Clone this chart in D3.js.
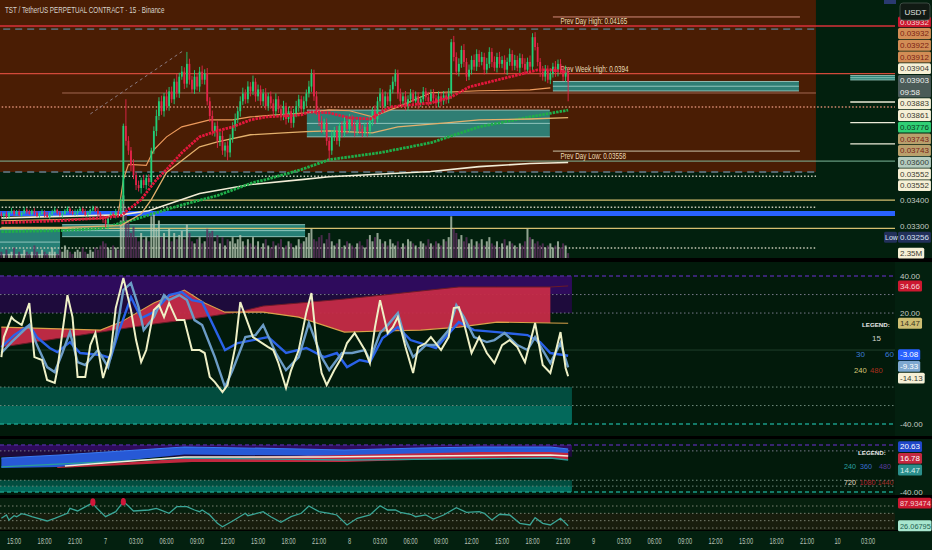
<!DOCTYPE html>
<html><head><meta charset="utf-8">
<script src="https://cdn.jsdelivr.net/npm/d3@7"></script>
<style>
html,body{margin:0;padding:0;background:#03200f;overflow:hidden;}
svg{display:block;font-family:"Liberation Sans",Arial,sans-serif;}
</style></head><body>
<svg id="c" width="932" height="550"></svg>
<script>
// ---------------- DATA (prices in 1e-5 USDT, 15-minute bars) ----------------
const firstOpen = 3346;
const closes = [
3338,3346,3334,3350,3358,3346,3354,3342,3350,3362,
3354,3346,3358,3350,3338,3346,3354,3342,3334,3346,
3354,3362,3350,3342,3346,3358,3366,3354,3346,3350,
3358,3366,3354,3342,3350,3362,3369,3358,3346,3331,
3323,3308,3331,3346,3338,3354,3346,3400,3707,3643,
3602,3541,3500,3460,3448,3480,3460,3488,3472,3602,
3685,3750,3815,3771,3837,3793,3859,3824,3903,3850,
3926,3949,3894,3985,3912,3868,3926,3881,3949,3912,
3940,3815,3750,3685,3707,3643,3664,3602,3623,3594,
3651,3707,3737,3771,3815,3850,3824,3881,3859,3903,
3837,3868,3815,3850,3793,3837,3806,3771,3824,3780,
3750,3793,3737,3771,3720,3763,3793,3824,3780,3815,
3850,3881,3940,3837,3771,3728,3694,3720,3643,3602,
3664,3685,3643,3707,3677,3728,3694,3737,3707,3685,
3720,3694,3677,3703,3685,3728,3771,3737,3815,3850,
3793,3837,3815,3868,3903,3940,3850,3815,3837,3793,
3824,3850,3815,3837,3806,3824,3859,3833,3815,3850,
3828,3806,3837,3815,3841,3824,3850,4087,4017,3949,
3985,4050,3994,3926,3958,4003,3972,4031,3994,4017,
3958,3985,4041,3994,3967,4017,3985,4003,3958,3994,
4031,3976,4003,3967,4012,3985,3958,3994,3972,4111,
4064,3994,3949,3926,3958,3912,3940,3972,3949,3985,
3958,3926,3949,3903];
const hiExt = [
8,5,10,6,12,4,7,9,5,11,6,8,4,10,7,5,
9,6,12,5,8,10,4,7,11,6,9,5,8,13,6,7,
5,10,8,4,9,7,12,6,8,10,5,9,7,11,6,10,
10,117,20,15,25,12,18,10,22,14,16,12,20,28,18,25,
15,30,20,22,14,35,18,26,20,56,24,18,30,16,22,28,
20,26,18,24,15,20,16,22,14,18,20,16,24,18,22,26,
18,24,20,28,16,22,18,20,24,16,22,18,26,14,20,24,
16,20,22,18,24,20,16,22,18,26,20,18,24,16,22,18,
20,16,24,18,22,14,20,18,16,22,18,20,14,24,16,18,
20,22,18,26,20,24,18,22,16,20,24,20,18,22,16,24,
18,20,16,22,18,14,20,16,24,18,20,16,22,18,20,16,
24,15,30,22,26,20,28,18,24,20,26,22,18,24,20,28,
22,18,26,20,24,18,22,20,26,18,24,20,22,18,26,20,
30,19,24,20,18,26,22,20,24,18,26,20,22,18,28,20];
const loExt = [
6,9,5,8,4,10,7,5,9,6,8,4,7,10,5,8,
6,10,4,7,9,5,8,6,11,4,7,9,5,8,10,6,
7,4,9,6,8,5,10,7,12,15,23,9,6,10,8,12,
15,20,18,24,16,20,14,22,12,18,16,20,14,22,18,16,
24,18,20,16,22,18,20,14,24,18,22,16,20,18,24,20,
22,18,26,20,24,30,22,18,26,33,20,16,22,18,24,16,
20,18,22,16,24,20,18,22,16,20,24,18,22,16,20,18,
24,16,22,20,18,24,16,20,22,18,24,20,16,22,18,24,
20,41,18,22,16,24,20,18,22,16,20,24,18,22,20,16,
24,18,20,22,16,24,18,20,16,22,18,20,24,16,22,18,
20,16,22,18,24,16,20,18,22,16,24,20,18,22,16,20,
18,24,20,16,22,18,24,20,16,22,18,20,24,16,22,18,
20,24,16,22,18,20,16,24,18,22,20,16,24,18,22,20,
18,22,16,20,24,18,22,16,20,18,24,22,16,20,24,88];
// volume in millions
const volumes = [
3,2,4,2,3,5,2,3,2,4,3,2,3,6,3,2,4,3,2,3,5,3,2,4,3,6,4,3,2,3,4,3,5,3,2,4,3,5,4,6,8,7,5,4,6,5,4,
18,30,24,18,12,15,10,8,12,9,10,8,20,22,14,18,10,12,9,14,8,12,9,11,13,9,16,12,8,7,9,10,7,8,14,12,13,8,11,7,10,6,9,8,10,7,9,11,8,6,9,7,10,
6,8,5,7,9,6,5,8,6,7,9,5,6,8,7,5,6,9,7,8,10,12,14,9,8,10,11,7,9,12,8,6,7,9,5,6,8,7,6,5,7,8,6,5,9,11,8,10,12,9,7,8,6,9,7,6,8,5,7,6,9,8,7,6,5,8,7,6,9,7,6,8,7,6,9,8,10,
20,14,12,9,11,8,10,7,9,6,8,7,9,6,8,10,7,6,8,5,7,9,6,8,7,6,5,7,6,8,14,10,9,7,8,6,7,5,6,7,5,6,8,5,7,6,2.35];

// moving averages [barIndex, price]
const maFastRed = [[0,3311],[23,3319],[39,3330],[47,3338],[49,3354],[55,3402],[61,3482],[65,3523],[71,3593],[78,3660],[85,3686],[91,3703],[98,3733],[104,3746],[118,3755],[121,3768],[129,3764],[137,3742],[145,3737],[153,3790],[169,3808],[177,3834],[184,3879],[200,3925],[211,3957],[216,3957],[222,3948]];
const maOrange = [[0,3319],[39,3327],[46,3346],[48,3482],[50,3544],[57,3540],[60,3605],[65,3660],[71,3703],[82,3733],[91,3733],[98,3746],[108,3755],[120,3764],[129,3777],[137,3773],[146,3746],[156,3790],[169,3853],[188,3862],[208,3866],[216,3875]];
const maYellow = [[0,3293],[23,3293],[47,3300],[55,3346],[59,3402],[65,3511],[78,3618],[85,3639],[98,3669],[111,3677],[120,3682],[129,3686],[146,3677],[156,3703],[175,3720],[188,3733],[208,3737],[223,3743]];
const maGreen = [[0,3277],[23,3281],[39,3289],[52,3323],[70,3378],[85,3418],[99,3470],[104,3482],[118,3523],[129,3564],[149,3593],[169,3635],[188,3703],[208,3746],[223,3776]];
const maWhite = [[0,3330],[47,3342],[58,3358],[78,3426],[98,3462],[118,3482],[129,3494],[169,3515],[188,3535],[208,3548],[223,3552]];
const trendLine = [[35,3759],[72,4050]];

// key levels
const prevDayHigh = 4165, prevWeekHigh = 3940, prevDayLow = 3558;
// horizontal lines [price, fromBar, toBar, kind]
const hLines = [
 [4165,-4,352,'pdh'],[4150,-4,320.5,'dashGray'],[3940,-4,352,'pwh'],[3852,23.9,320.5,'thin'],
 [3790,-4,356,'dotOrange'],[3558,-4,352,'pdl'],[3513,-4,320.5,'dashGray'],[3496,23.9,320.5,'dotWhite'],
 [3400,-4,352,'yellow'],[3372,-4,320.5,'dotWhite'],[3347,-4,353,'blueBand'],[3290,-4,352,'yellow'],
 [3215,-4,320.5,'dotWhite'],[3812,334,352,'white'],[3721,334,352,'white'],[3630,334,352,'white']];
// zones [top, bottom, fromBar, toBar]
const brownZone = [4400, 3513, -4, 320.5];
const tealZones = [[3776,3660,120.2,215.8],[3904,3861,217,313.8],[3304,3258,23.9,119.5],[3285,3190,-4,23.1],[3931,3911,334,353]];
const levelMarkFrom = 217, levelMarkTo = 314.2, levelTextAt = 220;

// right-axis tags
const priceTagValues = [3932,3932,3922,3912,3904,3903,3883,3861,3776,3743,3743,3600,3552,3552];
const priceTagKinds = ['red','tan','tan','tan','cream','last','cream','cream','green','khaki','khaki','sage','cream','cream'];
const countdown = '09:58';
const sessionLow = 3256;
const lastVolume = 2.35;
const priceTicks = [3400, 3300];

// oscillator pane (bar, value)
const oscIdx = [0,39,47,60,72,80,88,93,103,117,135,150,165,180,195,216,223];
const oscSlowA = [12.4,10.8,15.1,25.4,32.4,25.4,20.5,20.5,20.5,17.8,9.7,10.3,10.8,12.4,15.1,14.6,14.47];
const oscSlowB = [1.6,9.7,11.4,14.1,16.2,17.8,19.5,20.5,23.8,25.4,27.6,29.7,31.9,34.1,34.1,34.1,34.66];
const oscFillEnd = 216;
const osc15 = [[0,-3.8],[1,7.0],[4,17.8],[5,16.2],[8,13.5],[11,25.4],[13,-3.8],[16,-5.4],[18,-16.2],[21,-17.8],[22,-10.8],[26,29.7],[28,17.8],[30,-14.6],[33,-14.6],[35,2.7],[37,9.2],[40,-15.1],[43,-1.6],[45,22.7],[48,38.9],[51,21.6],[53,5.4],[55,-6.5],[57,0],[60,21.6],[62,24.3],[64,17.8],[66,25.4],[69,16.2],[72,16.2],[75,0],[78,0],[80,-1.6],[82,-14.6],[84,-17.3],[87,-22.7],[89,-18.9],[92,1.6],[94,25.9],[97,14.6],[99,7.0],[102,4.3],[105,1.6],[107,0],[109,-7.0],[112,-20.5],[114,-10.8],[117,0],[120,20.5],[122,30.8],[124,3.8],[126,-12.4],[128,-18.9],[131,-10.8],[134,-3.8],[136,3.8],[139,9.2],[143,0],[145,-7.0],[147,12.4],[149,27.0],[152,9.2],[154,12.4],[156,17.8],[159,1.6],[162,-12.4],[164,1.6],[167,3.8],[169,7.0],[173,0],[176,7.0],[178,22.7],[180,23.2],[182,14.6],[185,-1.6],[188,7.0],[191,-1.6],[194,-7.0],[197,2.7],[200,5.4],[203,1.6],[206,-6.5],[210,14.6],[213,-8.1],[216,-12.4],[220,9.7],[222,-9.7],[223,-14.13]];
const osc30 = [[0,-1.6],[4,4.3],[11,13.5],[14,2.7],[18,-9.2],[21,-11.9],[24,-1.6],[27,9.7],[30,-6.5],[33,-8.1],[38,0],[42,-9.2],[45,7.0],[48,32.4],[51,36.2],[54,23.2],[56,10.8],[60,17.8],[64,29.7],[66,27.0],[70,29.7],[73,27.0],[76,16.2],[79,13.5],[84,-3.8],[88,-20.0],[91,-10.8],[96,7.0],[100,8.1],[103,13.5],[108,-1.6],[112,-10.8],[117,-3.8],[121,14.6],[126,-3.8],[129,-10.8],[134,-1.6],[138,-1.6],[143,0],[145,-5.4],[149,9.2],[152,13.5],[156,20.0],[159,5.4],[162,-3.8],[167,2.7],[171,2.7],[176,10.8],[179,24.3],[182,17.8],[186,7.0],[191,4.3],[194,5.4],[198,9.2],[203,2.7],[207,0],[210,7.0],[216,-7.0],[220,3.8],[223,-9.33]];
const osc60 = [[0,1.6],[5,8.1],[11,13.5],[14,7.0],[19,1.1],[22,-1.1],[27,4.3],[31,-1.6],[39,-2.7],[43,-4.3],[46,9.2],[51,28.6],[55,17.3],[60,20.5],[66,29.7],[71,31.4],[75,27.0],[79,25.9],[88,0],[93,3.8],[99,5.4],[105,7.0],[112,-1.6],[120,1.1],[127,-3.8],[132,-1.6],[136,-9.2],[141,-5.4],[145,-6.5],[150,6.5],[156,12.4],[161,5.4],[171,1.1],[180,15.1],[186,10.8],[195,9.7],[207,8.1],[212,4.3],[216,-1.6],[223,-3.08]];

// long-term pane
const ltBlueTop = [[0,17.9],[23,23.0],[72,36.6],[117,33.2],[135,31.5],[165,34.9],[188,36.6],[216,36.6],[223,33.2]];
const ltBlueBot = [[0,0.9],[23,2.6],[72,24.0],[117,22.0],[135,18.0],[165,22.0],[188,24.0],[216,24.0],[223,20.6]];
const ltRedTop = [[22,2.6],[75,17.9],[135,23.0],[188,28.1],[216,28.1],[223,26.4]];
const ltRedBot = [[22,0.9],[75,11.1],[135,11.1],[188,17.9],[216,17.9],[223,14.5]];
const ltWhite = [[25,4.3],[72,19.6],[127,19.6],[165,21.3],[216,23.0],[223,21.3]];
const ltTeal = [[0,2.6],[72,17.9],[135,14.5],[216,17.9],[223,14.47]];
const ltLast = [20.63, 16.78, 14.47];

// bottom oscillator
const rsiLine = [[0,46.5],[2,55.5],[3,41.8],[5,53.5],[6,50.8],[8,59.0],[10,55.5],[12,50.8],[18,39.1],[21,46.5],[26,60.1],[27,73.7],[30,66.4],[35,85],[36,90.5],[37,78.1],[41,50.8],[45,64.5],[48,91.7],[49,86],[52,66.4],[58,69.1],[61,73.7],[66,60.1],[69,78.1],[73,78.1],[76,69.1],[78,64.5],[79,69.1],[82,55.5],[85,32.8],[87,23.5],[91,39.1],[96,60.1],[97,53.5],[103,64.5],[106,50.8],[110,35.5],[114,50.8],[118,60.1],[121,80.0],[125,64.5],[129,60.1],[132,55.5],[136,28.2],[140,46.5],[145,55.5],[149,80.8],[152,69.1],[155,69.1],[157,62.8],[161,57.4],[163,50.8],[167,55.5],[170,44.5],[174,55.5],[179,75.4],[183,62.8],[188,64.5],[190,60.1],[193,41.8],[196,57.4],[200,55.5],[204,32.8],[208,28.2],[210,48.1],[213,32.8],[216,28.2],[220,46.5],[223,26.06795]];
const rsiUpper = 87.93474;

// ---------------- SETUP ----------------
const svg = d3.select('#c');
const W = 932, H = 550, PR = 895;
const START = Date.UTC(2025,2,6,13,45), STEP = 9e5;
const xs = d3.scaleUtc().domain([new Date(Date.UTC(2025,2,6,13,37)), new Date(Date.UTC(2025,2,10,5,39))]).range([0, PR]);
const X = i => xs(new Date(START + i*STEP));
const P1 = [0, 258], P2 = [262, 437], P3 = [439, 496], P4 = [498, 530];
const yP = d3.scaleLog().domain([3178, 4293]).range([P1[1], P1[0]]);
const yV = d3.scaleLinear().domain([0, 35]).range([P1[1], 185]);
const yO = d3.scaleLinear().domain([-47, 47.6]).range([P2[1], P2[0]]);
const y3 = d3.scaleLinear().domain([-40, 40]).range([492, 445]);
const y4 = d3.scaleLinear().domain([20, 80]).range([528, 506]);

function squeeze(node, f) {
  const L = node.getComputedTextLength();
  if (L > 0) { node.setAttribute('textLength', (L * f).toFixed(2)); node.setAttribute('lengthAdjust', 'spacingAndGlyphs'); }
  return L * f;
}

svg.append('rect').attr('width', W).attr('height', H).attr('fill', '#03200f');
const defs = svg.append('defs');
[['c1',P1],['c2',P2],['c3',P3],['c4',P4]].forEach(([id,p]) => {
  defs.append('clipPath').attr('id', id).append('rect').attr('x', 0).attr('y', p[0]).attr('width', PR).attr('height', p[1]-p[0]);
});

// ---------------- PANE 1 : PRICE ----------------
const g1 = svg.append('g').attr('clip-path', 'url(#c1)');
g1.append('rect').attr('x',0).attr('y',P1[0]).attr('width',PR).attr('height',P1[1]-P1[0]).attr('fill','#02200e');
g1.append('rect').attr('x', X(brownZone[2])).attr('y', yP(brownZone[0]))
  .attr('width', X(brownZone[3]) - X(brownZone[2])).attr('height', yP(brownZone[1]) - yP(brownZone[0])).attr('fill', '#4a1d04');

const lineStyles = {
  pdh:{s:'#d9313a',w:1.4}, dashGray:{s:'#55666c',w:1.8,d:'7,5'}, pwh:{s:'#d24a3a',w:1.1},
  thin:{s:'#b77a66',w:0.8}, dotOrange:{s:'#d88a70',w:1.5,d:'1.5,2'}, pdl:{s:'#7fb89a',w:1},
  dotWhite:{s:'#c9c9b8',w:1.5,d:'1.5,2'}, yellow:{s:'#d6bf70',w:1.2}, blueBand:{s:'#2962ff',w:5},
  white:{s:'#ecebd8',w:1.4}
};
tealZones.forEach(z => {
  const x0 = X(z[2]), x1 = X(z[3]), t = yP(z[0]), b = yP(z[1]);
  g1.append('rect').attr('x',x0).attr('y',t).attr('width',x1-x0).attr('height',b-t).attr('fill','#2b8c84').attr('opacity',0.88);
  [z[0], z[1], (z[0]+z[1])/2].forEach(v => g1.append('line').attr('x1',x0).attr('x2',x1).attr('y1',yP(v)).attr('y2',yP(v))
     .attr('stroke','#a9d8cf').attr('stroke-width',1).attr('opacity',0.8));
});
hLines.forEach(l => {
  const st = lineStyles[l[3]];
  g1.append('line').attr('x1',X(l[1])).attr('x2',X(l[2])).attr('y1',yP(l[0])).attr('y2',yP(l[0]))
    .attr('stroke',st.s).attr('stroke-width',st.w).attr('stroke-dasharray',st.d||null);
});
[[prevDayHigh,'Prev Day High: ',-9],[prevWeekHigh,'Prev Week High: ',null],[prevDayLow,'Prev Day Low: ',-10]].forEach(([v,txt,off]) => {
  if (off !== null) g1.append('line').attr('x1',X(levelMarkFrom)).attr('x2',X(levelMarkTo)).attr('y1',yP(v)+off).attr('y2',yP(v)+off)
      .attr('stroke', v===prevDayLow ? '#c9c3a8' : '#d48a7a').attr('stroke-width',1);
  g1.append('text').attr('class','sq').attr('x',X(levelTextAt)).attr('y',yP(v)-2).attr('font-size',8.5).attr('fill','#ecdcb6')
    .text(txt + (+(v/1e5).toFixed(5)));
});
g1.append('line').attr('x1',X(trendLine[0][0])).attr('y1',yP(trendLine[0][1])).attr('x2',X(trendLine[1][0])).attr('y2',yP(trendLine[1][1]))
  .attr('stroke','#8a7a80').attr('stroke-width',1).attr('stroke-dasharray','3,3');

const bars = closes.map((c,i) => {
  const o = i === 0 ? firstOpen : closes[i-1];
  return {i, o, c, h: Math.max(o,c) + hiExt[i], l: Math.min(o,c) - loExt[i], v: volumes[i]};
});
g1.append('g').selectAll('rect').data(bars).join('rect')
  .attr('x', d => X(d.i) - 1).attr('width', 2).attr('y', d => yV(d.v)).attr('height', d => yV(0) - yV(d.v))
  .attr('fill', d => d.c >= d.o ? '#b9c9b5' : '#5d2f5e').attr('opacity', 0.78);
const mline = d3.line().x(d => X(d[0])).y(d => yP(d[1]));
g1.append('path').datum(maWhite).attr('d', mline).attr('fill','none').attr('stroke','#f1ecd6').attr('stroke-width',1.6);
g1.append('path').datum(maGreen).attr('d', mline).attr('fill','none').attr('stroke','#1fae4a').attr('stroke-width',2.8).attr('stroke-dasharray','2.5,1');
g1.append('path').datum(maYellow).attr('d', mline).attr('fill','none').attr('stroke','#e3b06c').attr('stroke-width',1.3);
g1.append('path').datum(maOrange).attr('d', mline).attr('fill','none').attr('stroke','#ec9a5c').attr('stroke-width',1.2);
const cg = g1.append('g');
cg.selectAll('line').data(bars).join('line')
  .attr('x1', d => X(d.i)).attr('x2', d => X(d.i)).attr('y1', d => yP(d.h)).attr('y2', d => yP(d.l))
  .attr('stroke', d => d.c >= d.o ? '#22cf78' : '#e4244a').attr('stroke-width', 0.9);
cg.selectAll('rect').data(bars).join('rect')
  .attr('x', d => X(d.i) - 0.9).attr('width', 1.8)
  .attr('y', d => yP(Math.max(d.o,d.c))).attr('height', d => Math.max(1, Math.abs(yP(d.o) - yP(d.c))))
  .attr('fill', d => d.c >= d.o ? '#22cf78' : '#e4244a');
g1.append('path').datum(maFastRed).attr('d', mline).attr('fill','none').attr('stroke','#e3173c').attr('stroke-width',2.8).attr('stroke-dasharray','2.5,1');

svg.append('text').attr('class','sq').attr('x',5).attr('y',13).attr('font-size',8.5).attr('fill','#d8d4cc')
  .text('TST / TetherUS PERPETUAL CONTRACT · 15 · Binance');

// ---------------- PANE 2 : OSCILLATOR ----------------
const g2 = svg.append('g').attr('clip-path','url(#c2)');
g2.append('rect').attr('x',0).attr('y',P2[0]).attr('width',PR).attr('height',P2[1]-P2[0]).attr('fill','#021a0b');
const bandEnd = X(224.5);
[[40,30,'#2e0b5c'],[30,20,'#1e0b3c'],[-20,-30,'#024d3f'],[-30,-40,'#03695b']].forEach(([a,b,c]) =>
  g2.append('rect').attr('x',0).attr('width',bandEnd).attr('y',yO(a)).attr('height',yO(b)-yO(a)).attr('fill',c));
[[40,'#4b2a94','4,3',1.6],[30,'#77788a','1.5,2.5',1],[20,'#77788a','1.5,2.5',1],[0,'#1f3f2c',null,1],[-20,'#6f8a7c','1.5,2.5',1],[-30,'#6f8a7c','1.5,2.5',1],[-40,'#1a9a88','4,3',1.5]]
  .forEach(([v,c,d,w]) => g2.append('line').attr('x1',0).attr('x2',PR).attr('y1',yO(v)).attr('y2',yO(v)).attr('stroke',c).attr('stroke-width',w).attr('stroke-dasharray',d));
const slow = oscIdx.map((idx,k) => ({idx, a: oscSlowA[k], b: oscSlowB[k]}));
g2.append('path').datum(slow.filter(d => d.idx <= oscFillEnd))
  .attr('d', d3.area().x(d => X(d.idx)).y0(d => yO(d.a)).y1(d => yO(d.b))).attr('fill','#c52b47').attr('opacity',0.95);
g2.append('path').datum(slow).attr('d', d3.line().x(d => X(d.idx)).y(d => yO(d.b))).attr('fill','none').attr('stroke','#6b1a28').attr('stroke-width',1);
g2.append('path').datum(slow).attr('d', d3.line().x(d => X(d.idx)).y(d => yO(d.a))).attr('fill','none').attr('stroke','#d9a24a').attr('stroke-width',1.1);
const oline = d3.line().x(d => X(d[0])).y(d => yO(d[1]));
g2.append('path').datum(osc60).attr('d', oline).attr('fill','none').attr('stroke','#2a62e8').attr('stroke-width',2.4);
g2.append('path').datum(osc30).attr('d', oline).attr('fill','none').attr('stroke','#6b9cc6').attr('stroke-width',2.4);
g2.append('path').datum(osc15).attr('d', oline).attr('fill','none').attr('stroke','#eef0c6').attr('stroke-width',2);

// ---------------- PANE 3 ----------------
const g3 = svg.append('g').attr('clip-path','url(#c3)');
g3.append('rect').attr('x',0).attr('y',P3[0]).attr('width',PR).attr('height',P3[1]-P3[0]).attr('fill','#021a0b');
[[40,30,'#2e0b5c'],[30,20,'#1e0b3c'],[-20,-30,'#024d3f'],[-30,-40,'#03695b']].forEach(([a,b,c]) =>
  g3.append('rect').attr('x',0).attr('width',bandEnd).attr('y',y3(a)).attr('height',y3(b)-y3(a)).attr('fill',c));
[[40,'#4b2a94','4,3',1.6],[30,'#77788a','1.5,2.5',1],[-20,'#6f8a7c','1.5,2.5',1],[-30,'#6f8a7c','1.5,2.5',1],[-40,'#1a9a88','4,3',1.5]]
  .forEach(([v,c,d,w]) => g3.append('line').attr('x1',0).attr('x2',PR).attr('y1',y3(v)).attr('y2',y3(v)).attr('stroke',c).attr('stroke-width',w).attr('stroke-dasharray',d));
function band(top, bot, fill) {
  const idxs = Array.from(new Set(top.map(d=>d[0]).concat(bot.map(d=>d[0])))).sort((a,b)=>a-b);
  const it = arr => i => { const xsA = arr.map(d=>d[0]); const k = d3.bisectLeft(xsA, i);
    if (k <= 0) return arr[0][1]; if (k >= arr.length) return arr[arr.length-1][1];
    const a = arr[k-1], b = arr[k]; return a[1] + (b[1]-a[1])*(i-a[0])/(b[0]-a[0]); };
  const ft = it(top), fb = it(bot);
  g3.append('path').datum(idxs.filter(i => i >= Math.max(top[0][0], bot[0][0])))
    .attr('d', d3.area().x(i => X(i)).y0(i => y3(fb(i))).y1(i => y3(ft(i)))).attr('fill', fill);
}
band(ltBlueTop, ltBlueBot, '#2759d6');
band(ltRedTop, ltRedBot, '#c2283f');
const l3 = d3.line().x(d => X(d[0])).y(d => y3(d[1]));
g3.append('path').datum(ltBlueTop).attr('d', l3).attr('fill','none').attr('stroke','#3a7af0').attr('stroke-width',1.2);
g3.append('path').datum(ltTeal).attr('d', l3).attr('fill','none').attr('stroke','#2a9d9a').attr('stroke-width',1.3);
g3.append('path').datum(ltWhite).attr('d', l3).attr('fill','none').attr('stroke','#f2eedc').attr('stroke-width',1.6);

// ---------------- PANE 4 ----------------
const g4 = svg.append('g').attr('clip-path','url(#c4)');
g4.append('rect').attr('x',0).attr('y',P4[0]).attr('width',PR).attr('height',P4[1]-P4[0]).attr('fill','#06200e');
g4.append('rect').attr('x',0).attr('y',y4(60)).attr('width',PR).attr('height',y4(10)-y4(60)).attr('fill','#181d0d');
[80,60,40,20].forEach(v => g4.append('line').attr('x1',0).attr('x2',PR).attr('y1',y4(v)).attr('y2',y4(v))
  .attr('stroke','#7a8070').attr('stroke-width',1).attr('stroke-dasharray','1.5,2.5'));
g4.append('path').datum(rsiLine).attr('d', d3.line().x(d => X(d[0])).y(d => y4(d[1])))
  .attr('fill','none').attr('stroke','#3aa596').attr('stroke-width',1.3);
g4.selectAll('ellipse').data(rsiLine.filter(d => d[1] > rsiUpper)).join('ellipse')
  .attr('cx', d => X(d[0])).attr('cy', d => y4(d[1])).attr('rx',2.6).attr('ry',3.8).attr('fill','#d0163a');

[[258,4],[436,3],[495,3],[530,1]].forEach(([y,h]) => svg.append('rect').attr('x',0).attr('y',y).attr('width',W).attr('height',h).attr('fill','#000'));

// ---------------- X AXIS ----------------
const tickDates = d3.utcHour.every(3).range(xs.domain()[0], xs.domain()[1]);
svg.append('g').selectAll('text').data(tickDates).join('text').attr('class','sqx')
  .attr('x', d => xs(d)).attr('y', 544).attr('text-anchor','middle').attr('font-size',8.5).attr('fill','#b9c3b8')
  .text(d => d.getUTCHours() === 0 ? String(d.getUTCDate()) : d3.utcFormat('%H:%M')(d));

// ---------------- RIGHT AXIS ----------------
const AX = 898;
const tagBoxes = [];
function resolve(items) {
  let groups = items.map(it => ({m:[it]}));
  const layout = g => { let off = 0, s = 0; g.m.forEach(it => { s += it.y - off - it.h/2; off += it.h; }); g.h = off; g.top = s / g.m.length; };
  groups.forEach(layout);
  let changed = true;
  while (changed) { changed = false;
    for (let i = 0; i < groups.length - 1; i++) {
      const a = groups[i], b = groups[i+1];
      if (a.top + a.h > b.top + 0.01) { a.m = a.m.concat(b.m); layout(a); groups.splice(i+1,1); changed = true; break; }
    }
  }
  groups.forEach(g => { let t = g.top; g.m.forEach(it => { it.top = t; t += it.h; }); });
}
const tagStyle = {
  red:{bg:'#cc1830',fg:'#f4d8d8'}, tan:{bg:'#d28d55',fg:'#7a1e14'}, cream:{bg:'#f6f0d6',fg:'#3a3a30'},
  last:{bg:'#4b5b58',fg:'#eef0ee'}, green:{bg:'#2fcf74',fg:'#0b3d1e'}, khaki:{bg:'#b9a06c',fg:'#7a2418'},
  sage:{bg:'#b5ccbf',fg:'#34403a'}, blue:{bg:'#2962ff',fg:'#ffffff'}, lblue:{bg:'#7ea8d0',fg:'#ffffff'},
  yellow:{bg:'#cdbd72',fg:'#3a3420'}, navy:{bg:'#1f47c9',fg:'#ffffff'}, rose:{bg:'#c4283f',fg:'#ffffff'},
  teal:{bg:'#2b8f8c',fg:'#d8f0ee'}, mint:{bg:'#a8e6cf',fg:'#1d5f50'}, dark:{bg:'#22305a',fg:'#d8e0f4'}
};
const TH = 11.7;
const tagLayer = svg.append('g');
function drawTags(items, fs) {
  resolve(items);
  items.forEach(it => {
    const st = tagStyle[it.kind];
    const g = tagLayer.append('g');
    const t = g.selectAll('text').data(it.texts).join('text')
      .attr('x', AX + 2).attr('y', (d,k) => it.top + 8.6 + k*TH).attr('font-size', fs || 8).attr('fill', st.fg).text(d => d);
    const w = Math.min(33.5, d3.max(t.nodes(), n => n.getComputedTextLength()) + 4);
    g.insert('rect','text').attr('x', AX).attr('y', it.top + 0.4).attr('width', w).attr('height', it.h - 0.8).attr('fill', st.bg).attr('rx', 1.5);
    tagBoxes.push([it.top, it.top + it.h]);
  });
}
drawTags(priceTagValues.map((v,k) => ({y: yP(v), h: priceTagKinds[k]==='last' ? 2*TH : TH, kind: priceTagKinds[k],
  texts: priceTagKinds[k]==='last' ? [(v/1e5).toFixed(5), countdown] : [(v/1e5).toFixed(5)]})));
drawTags([{y: yP(sessionLow), h: TH, kind:'dark', texts:[(sessionLow/1e5).toFixed(5)]}]);
tagLayer.append('rect').attr('x', AX-14).attr('y', yP(sessionLow)-TH/2+0.4).attr('width',13).attr('height',TH-0.8).attr('fill','#22305a').attr('rx',1.5);
tagLayer.append('text').attr('x', AX-13).attr('y', yP(sessionLow)+3).attr('font-size',7).attr('fill','#d8e0f4').text('Low');
drawTags([{y: yV(lastVolume), h: TH, kind:'cream', texts:[lastVolume + 'M']}]);
drawTags([
  {y: yO(oscSlowB[oscSlowB.length-1]), h: TH, kind:'red', texts:[oscSlowB[oscSlowB.length-1].toFixed(2)]},
  {y: yO(oscSlowA[oscSlowA.length-1]), h: TH, kind:'yellow', texts:[oscSlowA[oscSlowA.length-1].toFixed(2)]},
  {y: yO(osc60[osc60.length-1][1]), h: TH, kind:'blue', texts:[osc60[osc60.length-1][1].toFixed(2)]},
  {y: yO(osc30[osc30.length-1][1]), h: TH, kind:'lblue', texts:[osc30[osc30.length-1][1].toFixed(2)]},
  {y: yO(osc15[osc15.length-1][1]), h: TH, kind:'cream', texts:[osc15[osc15.length-1][1].toFixed(2)]}
]);
drawTags(ltLast.map((v,k) => ({y: y3(v), h: TH, kind: ['navy','rose','teal'][k], texts:[v.toFixed(2)]})));
drawTags([{y: y4(rsiUpper), h: TH, kind:'red', texts:[String(rsiUpper)]},
          {y: y4(rsiLine[rsiLine.length-1][1]), h: TH, kind:'mint', texts:[String(rsiLine[rsiLine.length-1][1])]}], 7.4);

function plain(y, txt) {
  if (tagBoxes.some(b => y + 3 > b[0] - 1 && y - 4 < b[1] + 1)) return;
  svg.insert('text', () => tagLayer.node()).attr('x', AX+2).attr('y', y+3).attr('font-size',8).attr('fill','#c3cbc2').text(txt);
}
priceTicks.forEach(v => plain(yP(v), (v/1e5).toFixed(5)));
[40,20,0,-20,-40].forEach(v => plain(yO(v), v.toFixed(2)));
[40,-40].forEach(v => plain(y3(v), v.toFixed(2)));

svg.append('rect').attr('x',900).attr('y',3).attr('width',30).attr('height',17).attr('rx',3).attr('fill','#111a14').attr('stroke','#3c4a42');
svg.append('text').attr('x',904.5).attr('y',15).attr('font-size',8).attr('fill','#e0e4e0').text('USDT');
svg.append('rect').attr('x',884).attr('y',0).attr('width',12).attr('height',4).attr('fill','#2a3a70');

function leg(x, y, txt, c, bold, fs) { svg.append('text').attr('x',x).attr('y',y).attr('font-size',fs||7.2).attr('font-weight',bold?'bold':null).attr('fill',c).text(txt); }
leg(862, 327, 'LEGEND:', '#e8e8e8', true, 6.2);
leg(872, 341, '15', '#d0d0c8', false, 8);
leg(856, 357, '30', '#3b7bd6', false, 8); leg(885, 357, '60', '#3b7bd6', false, 8);
leg(854, 373, '240', '#d8c878', false, 7.6); leg(870, 373, '480', '#a8301e', false, 7.6);
leg(858, 455, 'LEGEND:', '#e8e8e8', true, 6.2);
leg(844, 469, '240', '#2aa0a0'); leg(860, 469, '360', '#3a6ed0'); leg(879, 469, '480', '#5b3a9c');
leg(844, 485, '720', '#e4dcc4'); leg(859.5, 485, '1080', '#b4202e'); leg(877.5, 485, '1440', '#a0302a');

d3.selectAll('text.sq').each(function(){ squeeze(this, 0.74); });
d3.selectAll('text.sqx').each(function(){ squeeze(this, 0.66); });
</script></body></html>
